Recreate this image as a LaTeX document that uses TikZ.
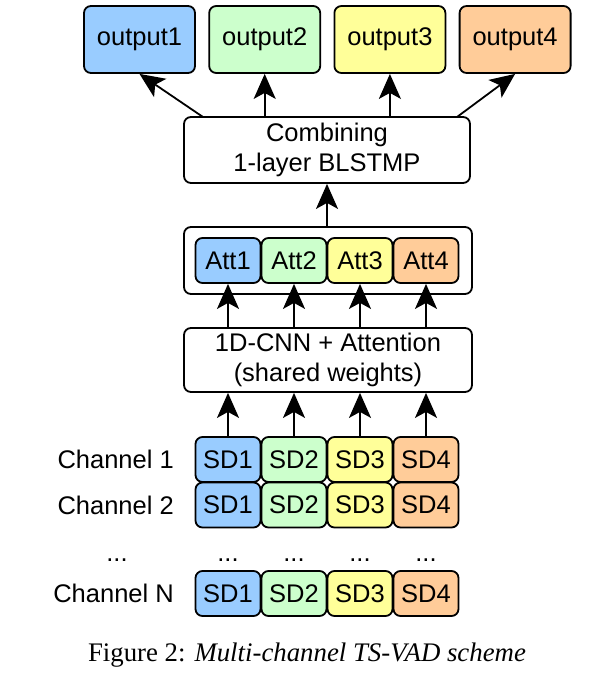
\documentclass[tikz,border=0pt]{standalone}
\usepackage{fontspec}
\setmainfont{Liberation Sans}
\newfontfamily\capfont{Liberation Serif}
\usetikzlibrary{arrows.meta}
\definecolor{spkblue}{HTML}{99CCFF}
\definecolor{spkgreen}{HTML}{CCFFCC}
\definecolor{spkyellow}{HTML}{FFFF99}
\definecolor{spkorange}{HTML}{FFCC99}
\tikzset{
  blk/.style={draw=black, line width=1.8pt, rounded corners=7pt, inner sep=0pt,
    align=center, font=\fontsize{25.5}{30}\selectfont},
  cell/.style={blk, minimum width=65pt, minimum height=45pt},
  arr/.style={-{Stealth[length=25pt,width=22pt,inset=6pt]}, line width=1.8pt},
  lbl/.style={font=\fontsize{25.5}{30}\selectfont, inner sep=0pt}
}

\begin{document}
\begin{tikzpicture}[x=1pt,y=-1pt]
\useasboundingbox (0,0) rectangle (610,683);

% outputs
\foreach \i/\c in {1/spkblue,2/spkgreen,3/spkyellow,4/spkorange}{
  \node[blk, fill=\c, minimum width=111pt, minimum height=67pt] (out\i) at ({139.5+125.2*(\i-1)},39.5) {output\i};
}

% combining layer
\node[blk, minimum width=286pt, minimum height=66pt] (comb) at (327,150) {Combining\\1-layer BLSTMP};

% attention outputs
\node[blk, minimum width=288pt, minimum height=67pt] (attgrp) at (328,260.5) {};
\foreach \i/\c in {1/spkblue,2/spkgreen,3/spkyellow,4/spkorange}{
  \node[cell, fill=\c] (att\i) at ({228+66*(\i-1)},260.5) {Att\i};
}

% shared network
\node[blk, minimum width=288pt, minimum height=64pt] (cnn) at (328,360) {1D-CNN + Attention\\(shared weights)};

% channels
\foreach \r/\y in {1/459.5,2/505,N/593.5}{
  \node[lbl, anchor=east] (ch\r) at (174,\y) {Channel \r};
  \foreach \i/\c in {1/spkblue,2/spkgreen,3/spkyellow,4/spkorange}{
    \node[cell, fill=\c] (sd\r\i) at ({228+66*(\i-1)},\y) {SD\i};
  }
}

% dots
\node[lbl] (dots0) at (117,560) {...};
\foreach \i in {1,...,4}{
  \node[lbl] (dots\i) at ({228+66*(\i-1)},560) {...};
}

% arrows
\coordinate (c1) at (203,117);
\coordinate (c4) at (457,117);
\draw[arr] (c1) -- (out1.south);
\draw[arr] (comb.north -| out2.south) -- (out2.south);
\draw[arr] (comb.north -| out3.south) -- (out3.south);
\draw[arr] (c4) -- (out4.south);
\draw[arr] (attgrp.north -| comb.south) -- (comb.south);
\foreach \i in {1,...,4}{
  \draw[arr] (cnn.north -| att\i.south) -- (att\i.south);
  \draw[arr] (sd1\i.north) -- (sd1\i.north |- cnn.south);
}

% caption
\node[font=\capfont\fontsize{26.8}{30}\selectfont, inner sep=0pt] (cap) at (307,655) {Figure 2: \textit{Multi-channel TS-VAD scheme}};

\end{tikzpicture}
\end{document}
